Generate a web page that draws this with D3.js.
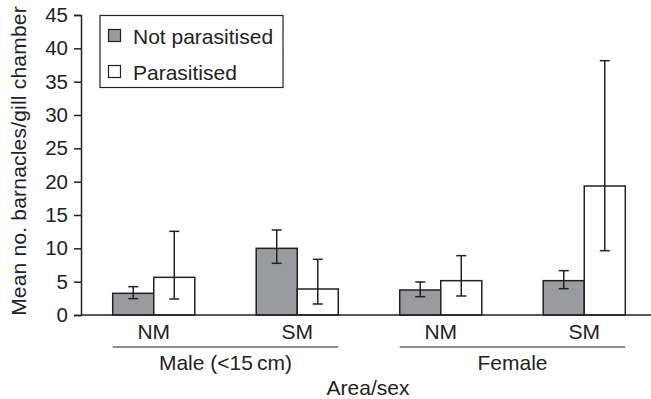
<!DOCTYPE html>
<html>
<head>
<meta charset="utf-8">
<script src="https://cdn.jsdelivr.net/npm/d3@7"></script>
<style>
  html, body { margin: 0; padding: 0; background: #fff; }
  svg { display: block; font-family: "Liberation Sans", Arial, Helvetica, sans-serif; }
  text { fill: #222; }
</style>
</head>
<body>
<svg id="chart" width="651" height="399"></svg>
<script>
// Groups along the x axis (area within sex)
const groups = ["Male NM", "Male SM", "Female NM", "Female SM"];
const areaLabels = ["NM", "SM", "NM", "SM"];
const sexLabels = ["Male (<15\u2009cm)", "Female"];
const series = ["Not parasitised", "Parasitised"];

// Mean barnacles per gill chamber with error-bar limits
const notParasitisedMean = [3.25, 10.0, 3.75, 5.15];
const notParasitisedLow  = [2.45, 7.75, 2.75, 3.95];
const notParasitisedHigh = [4.25, 12.75, 4.95, 6.65];
const parasitisedMean = [5.65, 3.9, 5.15, 19.35];
const parasitisedLow  = [2.4, 1.65, 2.85, 9.65];
const parasitisedHigh = [12.55, 8.35, 8.9, 38.15];

const yTicks = [0, 5, 10, 15, 20, 25, 30, 35, 40, 45];

const ink = "#222";
const greyFill = "#9a9b9e";
const fills = [greyFill, "#ffffff"];
const labelSize = 21;

const svg = d3.select("#chart");

const x0 = 81, yBase = 315, yTop = 15;
const x = d3.scaleBand().domain(groups).range([x0, 657])
  .paddingInner(0.428).paddingOuter(0.221);
const xs = d3.scaleBand().domain(series).range([0, x.bandwidth()]);
const y = d3.scaleLinear().domain([0, 45]).range([yBase, yTop]);

const rows = groups.map((g, i) => [
  { g, s: series[0], v: notParasitisedMean[i], lo: notParasitisedLow[i], hi: notParasitisedHigh[i] },
  { g, s: series[1], v: parasitisedMean[i], lo: parasitisedLow[i], hi: parasitisedHigh[i] }
]).flat();

// Bars
svg.append("g").selectAll("rect").data(rows).join("rect")
  .attr("x", d => x(d.g) + xs(d.s))
  .attr("y", d => y(d.v))
  .attr("width", xs.bandwidth())
  .attr("height", d => y(0) - y(d.v))
  .attr("fill", d => fills[series.indexOf(d.s)])
  .attr("stroke", ink).attr("stroke-width", 1.5);

// Error bars
const eb = svg.append("g").attr("stroke", ink).attr("stroke-width", 1.5);
const cap = 5;
rows.forEach(d => {
  const cx = x(d.g) + xs(d.s) + xs.bandwidth() / 2;
  eb.append("line").attr("x1", cx).attr("x2", cx).attr("y1", y(d.lo)).attr("y2", y(d.hi));
  eb.append("line").attr("x1", cx - cap).attr("x2", cx + cap).attr("y1", y(d.lo)).attr("y2", y(d.lo));
  eb.append("line").attr("x1", cx - cap).attr("x2", cx + cap).attr("y1", y(d.hi)).attr("y2", y(d.hi));
});

// Y axis
const yAxis = svg.append("g").attr("transform", `translate(${x0},0)`)
  .call(d3.axisLeft(y).tickValues(yTicks).tickSize(7).tickPadding(6).tickSizeOuter(7));
yAxis.select(".domain").attr("stroke", ink).attr("stroke-width", 1.5);
yAxis.selectAll(".tick line").attr("stroke", ink).attr("stroke-width", 1.5);
yAxis.selectAll(".tick text").attr("font-size", 20.5).attr("fill", ink)
  .attr("font-family", "Liberation Sans, Arial, sans-serif");

// Baseline
svg.append("line").attr("x1", x0).attr("x2", 657).attr("y1", yBase).attr("y2", yBase)
  .attr("stroke", ink).attr("stroke-width", 1.5);

// Area labels under each pair
svg.append("g").selectAll("text").data(groups).join("text")
  .attr("x", d => x(d) + x.bandwidth() / 2)
  .attr("y", 339)
  .attr("text-anchor", "middle").attr("font-size", labelSize)
  .text((d, i) => areaLabels[i]);

// Sex brackets and labels
[[0, 1], [2, 3]].forEach((pair, k) => {
  const a = x(groups[pair[0]]), b = x(groups[pair[1]]) + x.bandwidth();
  svg.append("line").attr("x1", a).attr("x2", b).attr("y1", 347).attr("y2", 347)
    .attr("stroke", ink).attr("stroke-width", 1.2);
  svg.append("text").attr("x", (a + b) / 2).attr("y", 370)
    .attr("text-anchor", "middle").attr("font-size", labelSize).text(sexLabels[k]);
});

// Axis titles
svg.append("text").attr("x", 368).attr("y", 395).attr("text-anchor", "middle")
  .attr("font-size", labelSize).text("Area/sex");
svg.append("text").attr("transform", "translate(26,161) rotate(-90)")
  .attr("text-anchor", "middle").attr("font-size", labelSize)
  .attr("letter-spacing", 0.2)
  .text("Mean no. barnacles/gill chamber");

// Legend
const lg = svg.append("g");
lg.append("rect").attr("x", 100).attr("y", 15.5).attr("width", 183).attr("height", 72)
  .attr("fill", "#fff").attr("stroke", ink).attr("stroke-width", 1.2);
series.forEach((s, i) => {
  const yy = 29.5 + i * 36;
  lg.append("rect").attr("x", 108.5).attr("y", yy).attr("width", 12).attr("height", 12)
    .attr("fill", fills[i]).attr("stroke", ink).attr("stroke-width", 1.2);
  lg.append("text").attr("x", 133).attr("y", yy + 14).attr("font-size", labelSize).text(s);
});
</script>
</body>
</html>
